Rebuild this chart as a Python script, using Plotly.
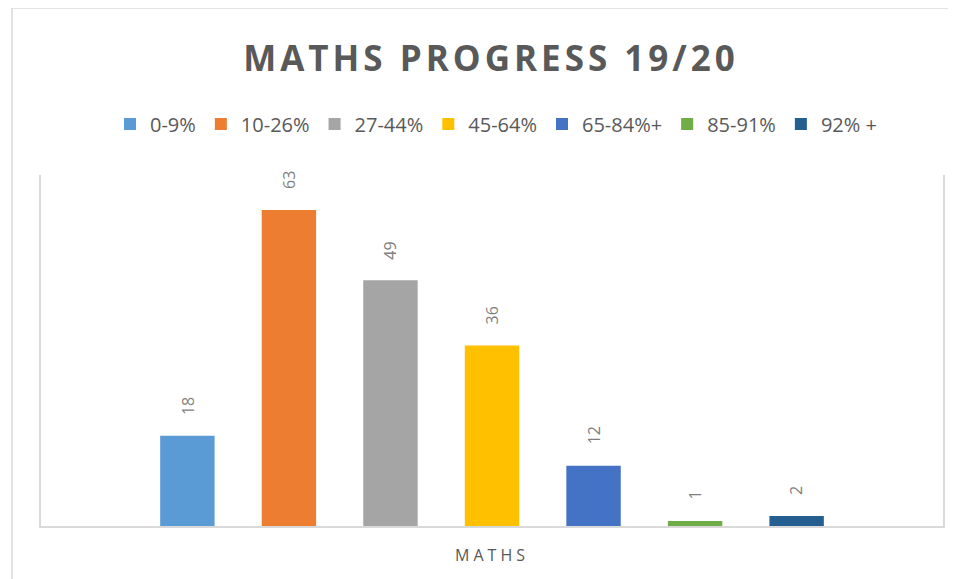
import plotly.graph_objects as go

# ---- data ----
categories = ["MATHS"]
bands = ["0-9%", "10-26%", "27-44%", "45-64%", "65-84%+", "85-91%", "92% +"]
counts = [18, 63, 49, 36, 12, 1, 2]
colors = ["#5B9BD5", "#ED7D31", "#A5A5A5", "#FFC000", "#4472C4", "#70AD47", "#255E91"]
title_text = "MATHS PROGRESS 19/20"

BARGAP = 0.212
GROUPGAP = 0.464
FONT = "Open Sans"
TXT = "#595959"
LINE = "#D9D9D9"
W, H = 948, 571  # page body adds an 8px offset

fig = go.Figure()
for name, val, col in zip(bands, counts, colors):
    fig.add_trace(go.Bar(
        x=categories, y=[val], name=name,
        marker=dict(color=col, line=dict(width=0)),
    ))

# data labels (rotated) above each bar in the group
n = len(bands)
slot = (1 - BARGAP) / n
for i, val in enumerate(counts):
    xpos = 0 + (i - (n - 1) / 2) * slot
    fig.add_annotation(
        x=xpos, y=val, xref="x", yref="y", text=str(val),
        showarrow=False, textangle=-90, yanchor="bottom", xanchor="center",
        yshift=19, font=dict(family=FONT, size=16, color="#7F7F7F"),
    )

# outer chart frame
fig.add_shape(type="rect", xref="paper", yref="paper",
              x0=-0.0322, x1=1.2, y0=-0.5, y1=1.476,
              line=dict(color=LINE, width=1.5), fillcolor="rgba(0,0,0,0)", layer="below")

fig.update_layout(
    width=W, height=H,
    margin=dict(l=33, r=13, t=167, b=53),
    paper_bgcolor="white", plot_bgcolor="white",
    barmode="group", bargap=BARGAP, bargroupgap=GROUPGAP,
    title=dict(text="<b><span style='letter-spacing:4px'>" + title_text + "</span></b>",
               x=(491 - 8) / W, xanchor="center",
               y=1 - (59 - 8) / H, yanchor="middle", xref="container", yref="container",
               font=dict(family=FONT, size=35, color=TXT)),
    legend=dict(orientation="h", x=(496 - 8) / W, xanchor="center", xref="container",
                y=1 - (124 - 8) / H, yanchor="middle", yref="container",
                font=dict(family=FONT, size=20, color=TXT),
                itemclick=False, traceorder="normal"),
    showlegend=True,
    font=dict(family=FONT, color=TXT),
)
fig.update_xaxes(showline=True, linecolor=LINE, linewidth=1.5, ticks="",
                 showgrid=False, tickfont=dict(family=FONT, size=16, color=TXT),
                 tickvals=categories,
                 ticktext=["<span style='letter-spacing:4px'>" + c + "</span>" for c in categories],
                 ticklabelstandoff=14)
fig.update_yaxes(range=[0, 70], showline=True, linecolor=LINE, linewidth=1.5,
                 mirror=True, showgrid=False, showticklabels=False, ticks="",
                 zeroline=False)

fig.write_html("out.html")
